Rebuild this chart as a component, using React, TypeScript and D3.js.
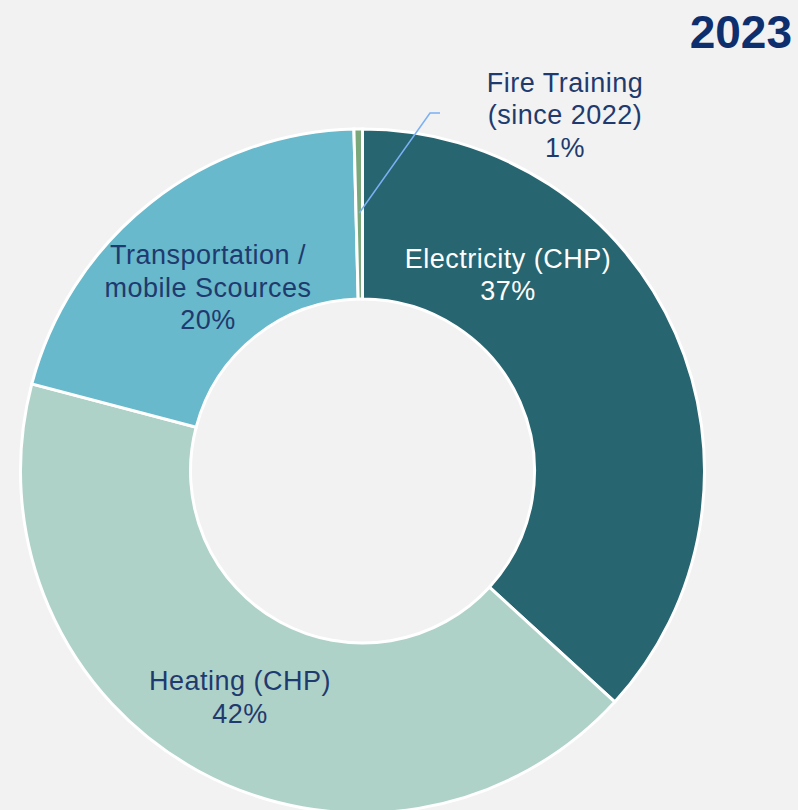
import * as d3 from "d3";

// slice data (clockwise from 12 o'clock)
const categories = ["Electricity (CHP)", "Heating (CHP)", "Transportation / mobile Scources", "Fire Training (since 2022)"];
const shares = [36.8, 42.3, 20.5, 0.4];
const shareLabels = ["37%", "42%", "20%", "1%"];
const labelLines = [
  ["Electricity (CHP)"],
  ["Heating (CHP)"],
  ["Transportation /", "mobile Scources"],
  ["Fire Training", "(since 2022)"],
];
const colors = ["#276570", "#afd2c8", "#68b9cb", "#7aa87a"];
const labelColors = ["#ffffff", "#1f3a6e", "#1f3a6e", "#1f3a6e"];
// label block centre, offset from the donut centre
const labelSpots: [number, number][] = [
  [145.5, -196.5],
  [-122.5, 226],
  [-154.5, -183.5],
  [202.5, -356],
];

export default function App() {
  const W = 798;
  const H = 810;
  const cx = 362.5;
  const cy = 471;
  const outerR = 342;
  const innerR = 172;

  const pie = d3.pie<number>().sort(null).value((d) => d);
  const arcs = pie(shares);
  const arcGen = d3.arc<d3.PieArcDatum<number>>().innerRadius(innerR).outerRadius(outerR);

  const lh = 32.5;
  const font = "'Liberation Sans', Arial, sans-serif";

  // leader line for the tiny slice
  const fire = arcs[3];
  const mid = (fire.startAngle + fire.endAngle) / 2;
  const p0 = [Math.sin(mid) * 258, -Math.cos(mid) * 258];
  const p1 = [430 - cx, 113 - cy];
  const p2 = [440 - cx, 113 - cy];

  return (
    <svg width={W} height={H} style={{ position: "absolute", left: 0, top: 0, background: "#f2f2f2" }}>
      <rect width={W} height={H} fill="#f2f2f2" />
      <g transform={`translate(${cx},${cy})`}>
        {arcs.map((a, i) => (
          <path key={categories[i]} d={arcGen(a) || ""} fill={colors[i]} stroke="#ffffff" strokeWidth={3} />
        ))}
        <polyline
          points={[p0, p1, p2].map((p) => p.join(",")).join(" ")}
          fill="none"
          stroke="#7ab0f5"
          strokeWidth={1.5}
        />
        {labelLines.map((lines, i) => {
          const [x, y] = labelSpots[i];
          const all = [...lines, shareLabels[i]];
          const top = y - ((all.length - 1) * lh) / 2;
          return (
            <text
              key={i}
              textAnchor="middle"
              fontFamily={font}
              fontSize={27}
              letterSpacing={0.5}
              fill={labelColors[i]}
            >
              {all.map((t, j) => (
                <tspan key={j} x={x} y={top + j * lh} dy="0.35em">
                  {t}
                </tspan>
              ))}
            </text>
          );
        })}
      </g>
      <text x={792} y={32} dy="0.35em" textAnchor="end" fontFamily={font} fontWeight="bold" fontSize={46} fill="#0e2f6e">
        2023
      </text>
    </svg>
  );
}
